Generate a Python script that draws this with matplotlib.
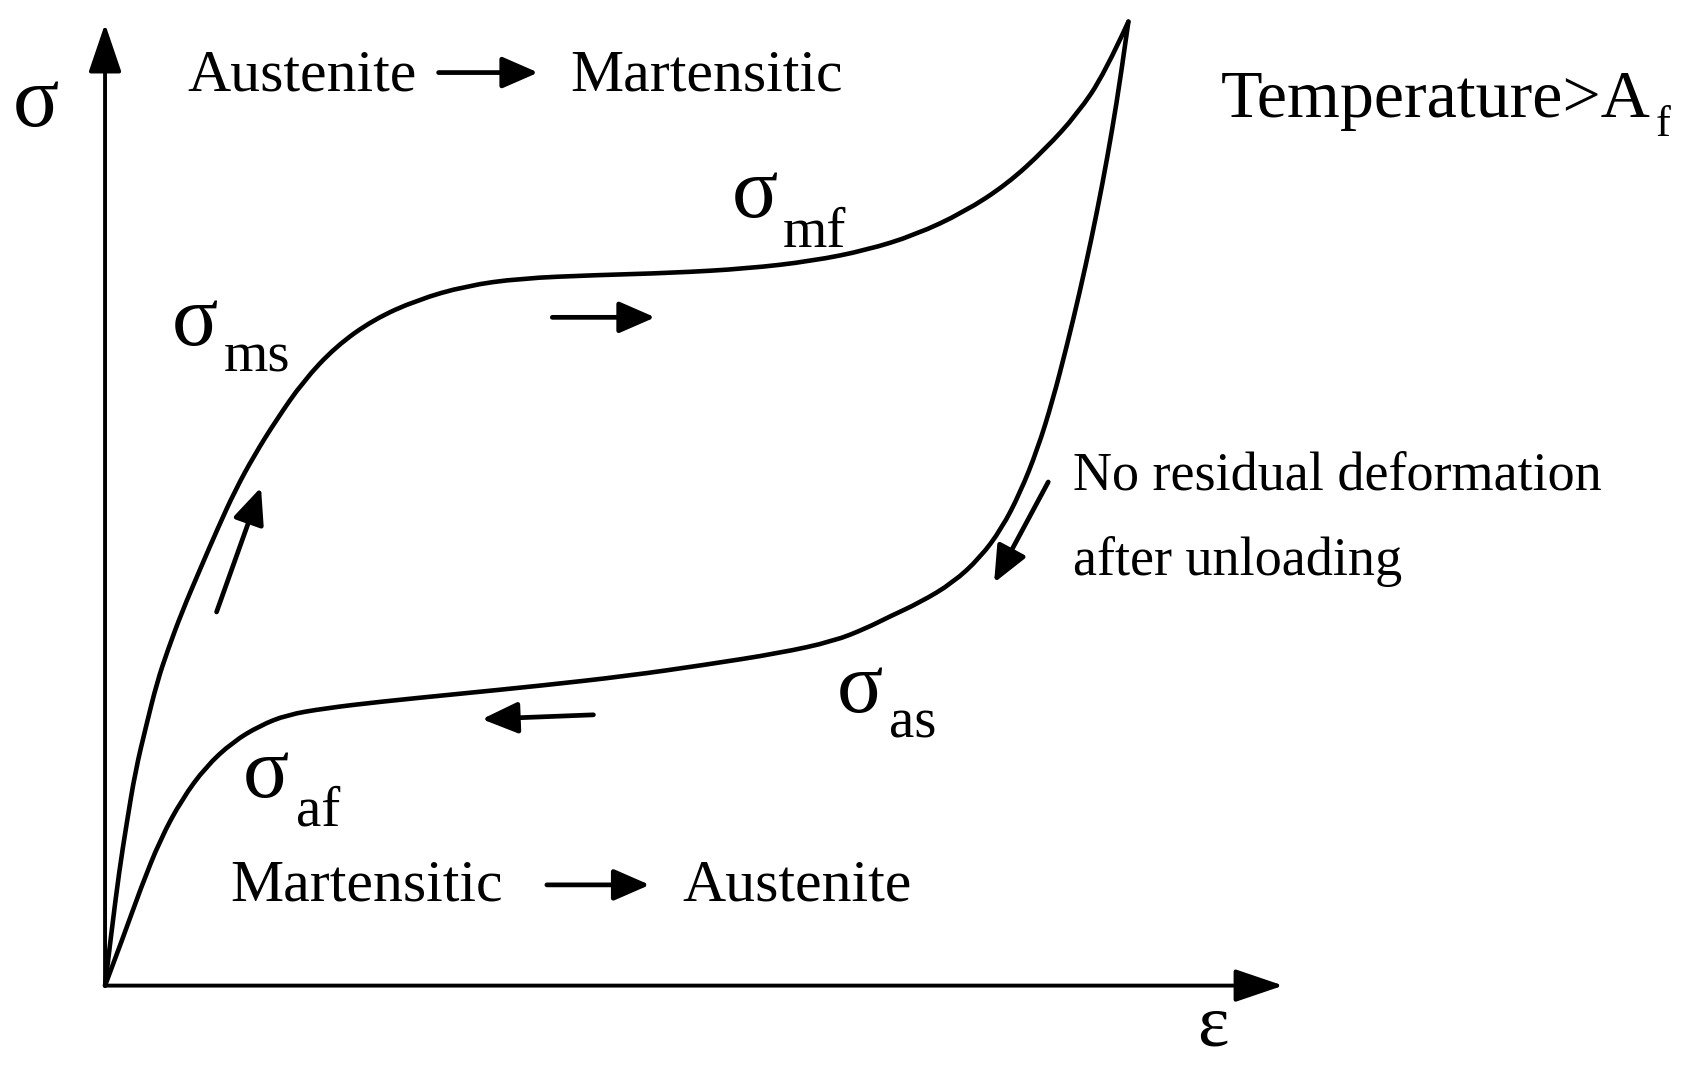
import numpy as np
import matplotlib
matplotlib.use("Agg")
import matplotlib.pyplot as plt
from matplotlib.path import Path
from matplotlib.patches import PathPatch

# strain / stress (arbitrary units, origin at axis corner)
load_strain = [0, 6, 13, 20, 28, 38, 48, 58, 71, 88, 104, 120, 138, 158, 183, 213, 248,
               288, 333, 383, 453, 523, 593, 653, 703, 748, 793, 833, 868, 898, 923, 945]
load_stress = [0, 50, 105, 150, 198, 240, 280, 310, 345, 385, 422, 457, 490, 522, 558, 590, 615,
               633, 646, 653, 656, 658, 662, 669, 679, 693, 714, 740, 772, 805, 842, 890]

unload_strain = [945, 938, 930, 921, 911, 900, 888, 875, 861, 845, 828, 808, 783, 753, 723, 703,
                 673, 623, 553, 483, 403, 323, 253, 203, 168, 143, 118, 93, 71, 51, 33, 18, 0]
unload_stress = [890, 840, 790, 740, 690, 640, 590, 540, 495, 455, 422, 395, 372, 354, 340, 330,
                 318, 307, 296, 286, 277, 269, 262, 256, 250, 240, 225, 202, 172, 135, 90, 48, 0]

# direction arrows along the loop: (start strain, start stress, end strain, end stress)
loop_arrows = [
    (103, 345, 144, 460),
    (413, 617, 508, 617),
    (451, 250, 348, 246),
    (871, 465, 821, 372),
]

axis_end = (1088, 888)

x_min, x_max = -97, 1471
y_min, y_max = -77, 910

serif = ["Liberation Serif", "DejaVu Serif"]


def smooth_path(xs, ys):
    # quadratic bezier: read points as control points, midpoints on the curve
    pts = np.column_stack([xs, ys]).astype(float)
    verts = [pts[0]]
    codes = [Path.MOVETO]
    for i in range(1, len(pts) - 1):
        mid = (pts[i] + pts[i + 1]) / 2
        if i == len(pts) - 2:
            mid = pts[i + 1]
        verts += [pts[i], mid]
        codes += [Path.CURVE3, Path.CURVE3]
    return Path(verts, codes)


fig = plt.figure(figsize=(16.98, 10.69), dpi=100)
ax = fig.add_axes([0, 0, 1, 1])
ax.set_xlim(x_min, x_max)
ax.set_ylim(y_min, y_max)
ax.axis("off")

# axes with arrow heads
axis_style = dict(arrowstyle="-|>,head_length=0.5,head_width=0.17", color="black",
                  lw=2.8, shrinkA=0, shrinkB=0, mutation_scale=60)
ax.annotate("", xy=(0, axis_end[1]), xytext=(0, 0), arrowprops=axis_style)
ax.annotate("", xy=(axis_end[0], 0), xytext=(0, 0), arrowprops=axis_style)

for xs, ys in [(load_strain, load_stress), (unload_strain, unload_stress)]:
    ax.add_patch(PathPatch(smooth_path(xs, ys), facecolor="none", edgecolor="black",
                           lw=3.3, joinstyle="round", capstyle="round"))

arrow_style = dict(arrowstyle="-|>,head_length=0.55,head_width=0.24", color="black",
                   lw=3.4, shrinkA=0, shrinkB=0, mutation_scale=40)
for x0, y0, x1, y1 in loop_arrows:
    ax.annotate("", xy=(x1, y1), xytext=(x0, y0), arrowprops=arrow_style)

# arrows inside the phase texts
ax.annotate("", xy=(400, 843), xytext=(308, 843), arrowprops=arrow_style)
ax.annotate("", xy=(503, 93), xytext=(408, 93), arrowprops=arrow_style)

txt = dict(family=serif, color="black")
ax.text(76, 826, "Austenite", fontsize=43, ha="left", va="baseline", **txt)
ax.text(430, 826, "Martensitic", fontsize=43, ha="left", va="baseline", **txt)
ax.text(116, 79, "Martensitic", fontsize=43, ha="left", va="baseline", **txt)
ax.text(533, 79, "Austenite", fontsize=43, ha="left", va="baseline", **txt)

ax.text(1030, 802, "Temperature>A", fontsize=49, ha="left", va="baseline", **txt)
ax.text(1432, 784, "f", fontsize=32, ha="left", va="baseline", **txt)

ax.text(894, 458, "No residual deformation", fontsize=39, ha="left", va="baseline", **txt)
ax.text(894, 379, "after unloading", fontsize=39, ha="left", va="baseline", **txt)

ax.text(-64, 813, "σ", fontsize=62, ha="center", va="center", **txt)
ax.text(1023, -39, "ε", fontsize=54, ha="center", va="center", **txt)

# sigma labels with subscripts: (sigma centre strain, stress, subscript left, baseline, text)
sigma_labels = [
    (600, 729, 626, 682, "mf"),
    (83, 611, 110, 567, "ms"),
    (149, 193, 176, 148, "af"),
    (697, 272, 724, 229, "as"),
]
for sx, sy, bx, by, sub in sigma_labels:
    ax.text(sx, sy, "σ", fontsize=62, ha="center", va="center", **txt)
    ax.text(bx, by, sub, fontsize=41, ha="left", va="baseline", **txt)

fig.savefig("out.png", dpi=100)
